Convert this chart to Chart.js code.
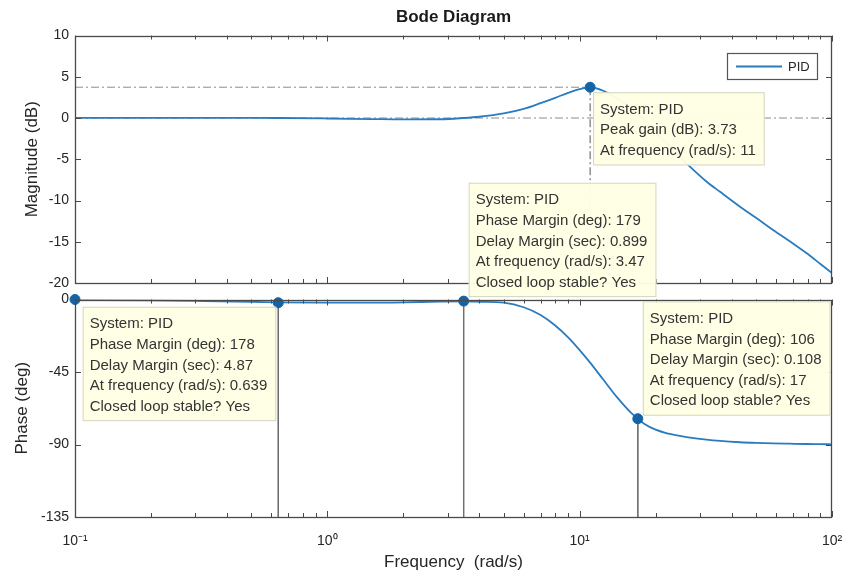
<!DOCTYPE html>
<html lang="en">
<head>
  <meta charset="UTF-8">
  <title>Bode Diagram</title>
  <style>
    body { margin: 0; background: #fff; }
    #lienzo { position: relative; width: 845px; height: 573px; }
    #lienzo canvas { position: absolute; left: 0; top: 0; }
  </style>
  <script src="https://cdn.jsdelivr.net/npm/chart.js"></script>
</head>
<body>
<div id="lienzo">
  <canvas id="graficoMagnitud" width="845" height="573"></canvas>
  <canvas id="graficoFase" width="845" height="573"></canvas>
</div>
<script>
  // Valores (rad/s, dB, grados)
  const frequencies = [0.1, 0.2, 0.3, 0.5, 0.639, 1, 1.5, 2, 2.8, 3.47, 4, 5, 6, 7, 8, 9, 10, 11, 12.4, 14, 16, 18, 20, 22, 24, 26.5, 31.8, 36, 43.2, 50, 58.6, 68, 79.4, 90, 100];
  const magnitudeDb = [0.02, 0.02, 0.02, 0.01, 0, -0.06, -0.13, -0.17, -0.15, 0, 0.15, 0.55, 1.1, 1.8, 2.45, 3.05, 3.5, 3.73, 3.3, 2.4, 1.2, -0.2, -1.7, -3.0, -4.2, -5.5, -7.7, -8.95, -10.75, -12.1, -13.6, -14.95, -16.4, -17.7, -18.8];
  const phaseDeg = [-0.3, -0.6, -0.9, -1.4, -1.8, -2, -2, -1.8, -1.3, -1.2, -1.4, -2.0, -4.8, -9.6, -16.1, -23.5, -31.4, -39.2, -49.7, -60.3, -70.4, -77.1, -80.8, -82.9, -84.2, -85.4, -87.0, -87.8, -88.6, -89.0, -89.3, -89.5, -89.7, -89.8, -89.9];

  const peakFreq = [11];
  const peakDb = [3.73];
  const marginFreq = [0.1, 0.639, 3.47, 17];
  const marginPhase = [0, -2, -1, -74];

  const xTickValues = [0.1, 1, 10, 100];
  const xTickLabels = ['10\u207B\u00B9', '10\u2070', '10\u00B9', '10\u00B2'];
  const magTicks = [10, 5, 0, -5, -10, -15, -20];
  const phaseTicks = [0, -45, -90, -135];

  const tipPeak = ['System: PID', 'Peak gain (dB): 3.73', 'At frequency (rad/s): 11'];
  const tipMargin1 = ['System: PID', 'Phase Margin (deg): 178', 'Delay Margin (sec): 4.87', 'At frequency (rad/s): 0.639', 'Closed loop stable? Yes'];
  const tipMargin2 = ['System: PID', 'Phase Margin (deg): 179', 'Delay Margin (sec): 0.899', 'At frequency (rad/s): 3.47', 'Closed loop stable? Yes'];
  const tipMargin3 = ['System: PID', 'Phase Margin (deg): 106', 'Delay Margin (sec): 0.108', 'At frequency (rad/s): 17', 'Closed loop stable? Yes'];

  const fuente = '"Liberation Sans", Arial, Helvetica, sans-serif';
  const azul = '#2a7bbf';
  const texto = '#262626';

  // marcas menores del eje logaritmico
  const logTicks = [];
  for (let k = -1; k <= 1; k++) {
    for (let m = 1; m <= 9; m++) logTicks.push(m * Math.pow(10, k));
  }
  logTicks.push(100);

  const puntos = (xs, ys) => xs.map((x, i) => ({ x: x, y: ys[i] }));

  // marco y marcas hacia dentro, como en MATLAB
  const marco = {
    id: 'marco',
    afterDraw(chart) {
      const { ctx, chartArea: a, scales } = chart;
      ctx.save();
      ctx.strokeStyle = '#4a4a4a';
      ctx.lineWidth = 1;
      ctx.beginPath();
      logTicks.forEach(v => {
        const px = Math.round(scales.x.getPixelForValue(v)) + 0.5;
        const len = xTickValues.includes(v) ? 6 : 4;
        ctx.moveTo(px, a.top); ctx.lineTo(px, a.top + len);
        ctx.moveTo(px, a.bottom); ctx.lineTo(px, a.bottom - len);
      });
      scales.y.ticks.forEach(t => {
        const py = Math.round(scales.y.getPixelForValue(t.value)) + 0.5;
        ctx.moveTo(a.left, py); ctx.lineTo(a.left + 6, py);
        ctx.moveTo(a.right, py); ctx.lineTo(a.right - 6, py);
      });
      ctx.stroke();
      ctx.lineWidth = 1.3;
      ctx.strokeRect(Math.round(a.left) + 0.5, Math.round(a.top) + 0.5, Math.round(a.width) - 1, Math.round(a.height) - 1);
      ctx.restore();
    }
  };

  // cuadros de datos (data tips)
  const datatips = {
    id: 'datatips',
    afterDraw(chart, args, opts) {
      const { ctx, scales } = chart;
      ctx.save();
      ctx.font = '15px ' + fuente;
      (opts.tips || []).forEach(tip => {
        const px = scales.x.getPixelForValue(tip.x);
        const py = scales.y.getPixelForValue(tip.y);
        const w = Math.max(...tip.lines.map(t => ctx.measureText(t).width)) + 16;
        const h = 32 + (tip.lines.length - 1) * 20.6;
        const left = tip.side === 'left' ? px - tip.dx - w : px + tip.dx;
        const top = tip.above ? py - tip.dy - h : py + tip.dy;
        ctx.fillStyle = 'rgba(255, 255, 228, 0.96)';
        ctx.fillRect(left, top, w, h);
        ctx.strokeStyle = '#d4d4c4';
        ctx.lineWidth = 1;
        ctx.strokeRect(left + 0.5, top + 0.5, w - 1, h - 1);
        ctx.fillStyle = '#333';
        ctx.textBaseline = 'middle';
        ctx.textAlign = 'left';
        tip.lines.forEach((t, i) => ctx.fillText(t, left + 7, top + 17.5 + i * 20.6));
      });
      ctx.restore();
    }
  };

  // leyenda con recuadro arriba a la derecha
  const leyenda = {
    id: 'leyenda',
    afterDraw(chart) {
      const { ctx, chartArea: a } = chart;
      const ds = chart.data.datasets[0];
      const right = a.right - 14, top = a.top + 17.5;
      const w = 91, h = 27;
      ctx.save();
      ctx.fillStyle = '#fff';
      ctx.fillRect(right - w, top, w, h);
      ctx.strokeStyle = '#555';
      ctx.lineWidth = 1.2;
      ctx.strokeRect(right - w + 0.5, top + 0.5, w - 1, h - 1);
      ctx.strokeStyle = ds.borderColor;
      ctx.lineWidth = 1.8;
      ctx.beginPath();
      ctx.moveTo(right - w + 9, top + h / 2);
      ctx.lineTo(right - w + 55, top + h / 2);
      ctx.stroke();
      ctx.fillStyle = texto;
      ctx.font = '13px ' + fuente;
      ctx.textBaseline = 'middle';
      ctx.fillText(ds.label, right - w + 61, top + h / 2 + 0.5);
      ctx.restore();
    }
  };

  const ejeY = (ticks, min, max, titulo, tituloPad) => ({
    min: min,
    max: max,
    afterBuildTicks: s => { s.ticks = ticks.map(v => ({ value: v })); },
    afterFit: s => { s.width = 75; s.paddingTop = 0; s.paddingBottom = 0; },
    grid: { display: false, drawTicks: false },
    border: { display: false },
    ticks: { padding: 6, color: texto, font: { family: fuente, size: 14 } },
    title: { display: true, text: titulo, color: texto, font: { family: fuente, size: 17 }, padding: { top: tituloPad, bottom: 0 } }
  });

  const lineaRef = (data, color, dash) => ({
    data: data,
    borderColor: color,
    borderWidth: 1,
    borderDash: dash,
    pointRadius: 0,
    order: 2
  });

  new Chart(document.getElementById('graficoMagnitud'), {
    type: 'line',
    data: {
      datasets: [
        { label: 'PID', data: puntos(frequencies, magnitudeDb), borderColor: azul, borderWidth: 1.8, pointRadius: 0, cubicInterpolationMode: 'monotone', order: 1 },
        { label: 'pico', data: puntos(peakFreq, peakDb), showLine: false, pointRadius: 5, pointBackgroundColor: '#1463a6', pointBorderColor: '#1463a6', clip: false, order: 0 },
        lineaRef([{ x: 0.1, y: 0 }, { x: 100, y: 0 }], '#8c8c8c', [8, 3, 2, 3]),
        lineaRef([{ x: 0.1, y: peakDb[0] }, { x: peakFreq[0], y: peakDb[0] }], '#a08a72', [8, 3, 2, 3]),
        lineaRef([{ x: peakFreq[0], y: peakDb[0] }, { x: peakFreq[0], y: -20 }], '#555', [8, 3, 2, 3])
      ]
    },
    options: {
      responsive: false,
      animation: false,
      devicePixelRatio: 1,
      layout: { padding: { left: 0, top: 0, right: 13, bottom: 290 } },
      plugins: {
        legend: { display: false },
        tooltip: { enabled: false },
        title: {
          display: true, text: 'Bode Diagram', fullSize: false, color: '#1a1a1a',
          font: { family: fuente, size: 17, weight: 'bold' },
          padding: { top: 6.8, bottom: 8.3 }
        },
        datatips: { tips: [{ x: peakFreq[0], y: peakDb[0], lines: tipPeak, side: 'right', above: false, dx: 3, dy: 5 }] }
      },
      scales: {
        x: { type: 'logarithmic', min: 0.1, max: 100, display: false },
        y: ejeY(magTicks, -20, 10, 'Magnitude (dB)', 21.8)
      }
    },
    plugins: [marco, datatips, leyenda]
  });

  const verticales = marginFreq.map((f, i) =>
    lineaRef([{ x: f, y: marginPhase[i] }, { x: f, y: -135 }], '#6e6e6e', []));

  new Chart(document.getElementById('graficoFase'), {
    type: 'line',
    data: {
      datasets: [
        { label: 'PID', data: puntos(frequencies, phaseDeg), borderColor: azul, borderWidth: 1.8, pointRadius: 0, cubicInterpolationMode: 'monotone', order: 1 },
        { label: 'margenes', data: puntos(marginFreq, marginPhase), showLine: false, pointRadius: 5, pointBackgroundColor: '#1463a6', pointBorderColor: '#1463a6', clip: false, order: 0 },
        ...verticales
      ]
    },
    options: {
      responsive: false,
      animation: false,
      devicePixelRatio: 1,
      layout: { padding: { left: 0, top: 299.5, right: 13, bottom: 0 } },
      plugins: {
        legend: { display: false },
        tooltip: { enabled: false },
        datatips: {
          tips: [
            { x: marginFreq[1], y: marginPhase[1], lines: tipMargin1, side: 'left', above: false, dx: 2, dy: 4 },
            { x: marginFreq[2], y: marginPhase[2], lines: tipMargin2, side: 'right', above: true, dx: 5, dy: 4 },
            { x: marginFreq[3], y: marginPhase[3], lines: tipMargin3, side: 'right', above: true, dx: 5, dy: 3 }
          ]
        }
      },
      scales: {
        x: {
          type: 'logarithmic', min: 0.1, max: 100,
          afterBuildTicks: s => { s.ticks = xTickValues.map(v => ({ value: v })); },
          afterFit: s => { s.height = 56; s.paddingLeft = 0; s.paddingRight = 0; },
          grid: { display: false, drawTicks: false },
          border: { display: false },
          ticks: {
            autoSkip: false, maxRotation: 0, padding: 16, color: texto,
            font: { family: fuente, size: 14 },
            callback: (v, i) => xTickLabels[i]
          },
          title: { display: true, text: 'Frequency  (rad/s)', color: texto, font: { family: fuente, size: 17 }, padding: { top: 0, bottom: 0 } }
        },
        y: ejeY(phaseTicks, -135, 0, 'Phase (deg)', 11.8)
      }
    },
    plugins: [marco, datatips]
  });
</script>
</body>
</html>
